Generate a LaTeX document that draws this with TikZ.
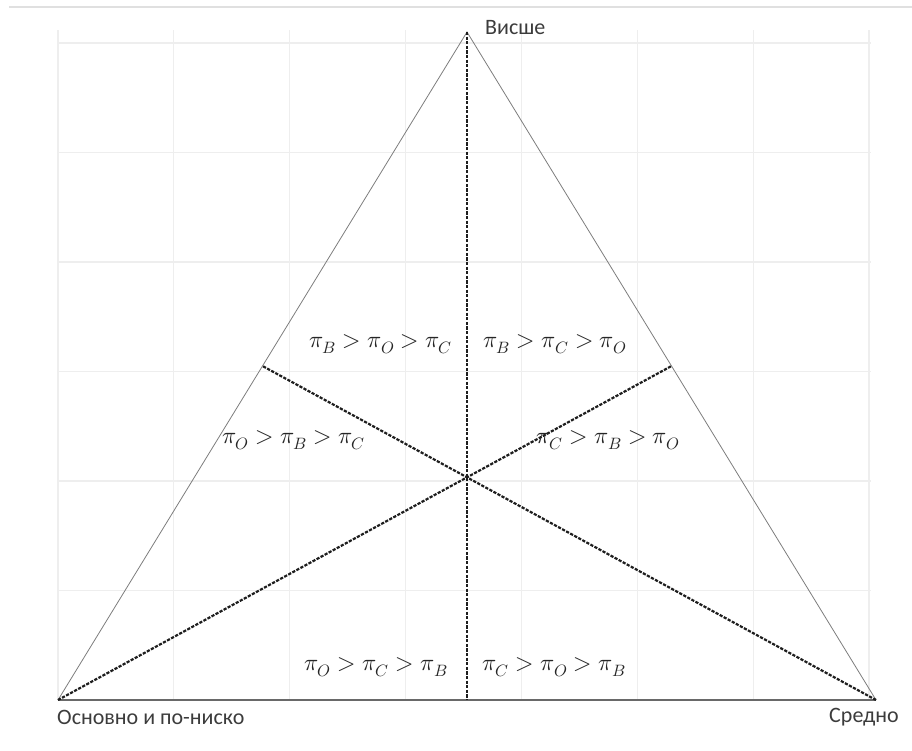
\documentclass[tikz,border=0pt]{standalone}
\usepackage{fontspec}
\usepackage{unicode-math}
\setmainfont{Carlito}
\setmathfont{Latin Modern Math}
\usetikzlibrary{calc}
\definecolor{gridc}{RGB}{238,238,238}
\definecolor{sidec}{RGB}{125,125,125}
\definecolor{basec}{RGB}{105,105,105}
\definecolor{dashc}{RGB}{30,30,30}
\definecolor{txtc}{RGB}{60,60,60}
\begin{document}
\begin{tikzpicture}[x=1pt,y=-1pt,
  side/.style={draw=sidec,line width=0.8pt},
  baseline/.style={draw=basec,line width=1.4pt},
  median/.style={draw=dashc,line width=2.2pt,dash pattern=on 3.2pt off 1.4pt},
  gridline/.style={draw=gridc,line width=1.2pt},
  vlabel/.style={font=\fontsize{22}{25}\selectfont,text=txtc,inner sep=0pt},
  order/.style={font=\fontsize{23.5}{27}\selectfont,text=black!85,inner sep=0pt}]
\useasboundingbox (0,0) rectangle (912,751);
% faint top rule
\draw[draw=black!12,line width=1.5pt] (9,7) -- (912,7);
% grid
\foreach \i in {0,...,7} {\draw[gridline] ({58+115.86*\i},30) -- ({58+115.86*\i},700);}
\foreach \j in {0,...,6} {\draw[gridline] (58,{43+109.5*\j}) -- (871,{43+109.5*\j});}
% vertices
\coordinate (T) at (467,32);
\coordinate (L) at (58,700);
\coordinate (R) at (876,700);
\coordinate (M) at (467,700);
\coordinate (ML) at ($(L)!0.5!(T)$);
\coordinate (MR) at ($(R)!0.5!(T)$);
% triangle
\draw[side] (L) -- (T) -- (R);
\draw[baseline] (L) -- (R);
% medians
\draw[median] (T) -- (M);
\draw[median] (L) -- (MR);
\draw[median] (R) -- (ML);
% vertex labels
\node[vlabel,anchor=west] (lt) at (485,28) {Висше};
\node[vlabel,anchor=west] (ll) at (57,717) {Основно и по-ниско};
\node[vlabel,anchor=east] (lr) at (899,717) {Средно};
% region labels
\node[order] (r1) at (381,344) {$\pi_B > \pi_O > \pi_C$};
\node[order] (r2) at (555,344) {$\pi_B > \pi_C > \pi_O$};
\node[order] (r3) at (294,440) {$\pi_O > \pi_B > \pi_C$};
\node[order] (r4) at (608,440) {$\pi_C > \pi_B > \pi_O$};
\node[order] (r5) at (376,667) {$\pi_O > \pi_C > \pi_B$};
\node[order] (r6) at (554,667) {$\pi_C > \pi_O > \pi_B$};
\end{tikzpicture}
\end{document}
